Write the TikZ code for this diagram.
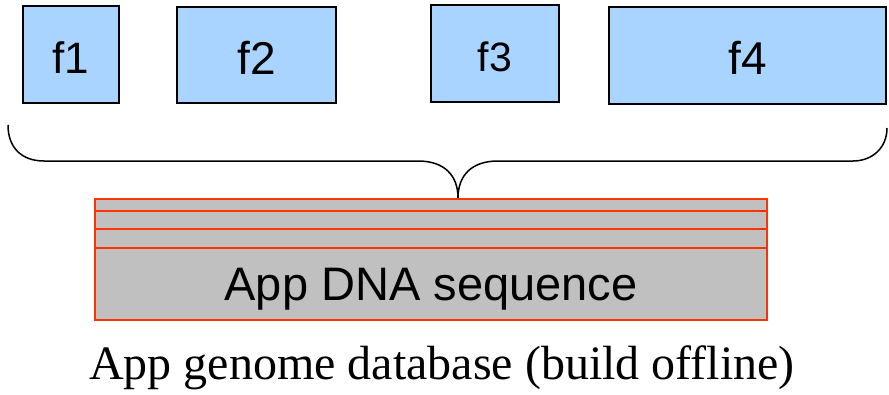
\documentclass[tikz,border=0pt]{standalone}
\usepackage{fontspec}
\setmainfont{Liberation Serif}
\setsansfont{Liberation Sans}
\definecolor{fbox}{RGB}{169,212,255}
\definecolor{seqgrey}{RGB}{192,192,192}
\definecolor{seqred}{RGB}{255,51,0}
\begin{document}
\begin{tikzpicture}[x=1pt,y=-1pt,
  fnbox/.style={draw=black,line width=1.5pt,fill=fbox,inner sep=0pt},
  layer/.style={draw=seqred,line width=1.4pt,fill=seqgrey},
  bracepath/.style={draw=black,line width=1.5pt}]
\useasboundingbox (0,0) rectangle (889,394);

% function boxes
\filldraw[fnbox] (23,6) rectangle (119,103);
\node[font=\sffamily\fontsize{44}{44}\selectfont] (f1) at (71,58) {f1};
\filldraw[fnbox] (177,7) rectangle (336,103);
\node[font=\sffamily\fontsize{46}{46}\selectfont] (f2) at (256.5,58) {f2};
\filldraw[fnbox] (431,5) rectangle (559,102);
\node[font=\sffamily\fontsize{41}{41}\selectfont] (f3) at (495,57) {f3};
\filldraw[fnbox] (609,7) rectangle (886,104);
\node[font=\sffamily\fontsize{46}{46}\selectfont] (f4) at (747.5,58) {f4};

% brace gathering the functions
\coordinate (bl) at (8,125);
\coordinate (br) at (887,128);
\coordinate (tip) at (458,198);
\draw[bracepath] (bl) .. controls (8,148) and (22,161) .. (44,161)
  -- (418,161) .. controls (445,161) and (458,176) .. (tip);
\draw[bracepath] (tip) .. controls (458,176) and (471,161) .. (498,161)
  -- (853,161) .. controls (872,161) and (887,148) .. (br);

% genome database layers
\filldraw[layer] (95,199) rectangle (767,320);
\draw[seqred,line width=1.4pt] (95,211) -- (767,211);
\draw[seqred,line width=1.4pt] (95,229) -- (767,229);
\draw[seqred,line width=1.4pt] (95,248) -- (767,248);
\node[font=\sffamily\fontsize{47}{47}\selectfont] (seq) at (431,289) {App DNA sequence};

\node[font=\fontsize{48}{48}\selectfont] (db) at (442,368) {App genome database (build offline)};
\end{tikzpicture}
\end{document}
